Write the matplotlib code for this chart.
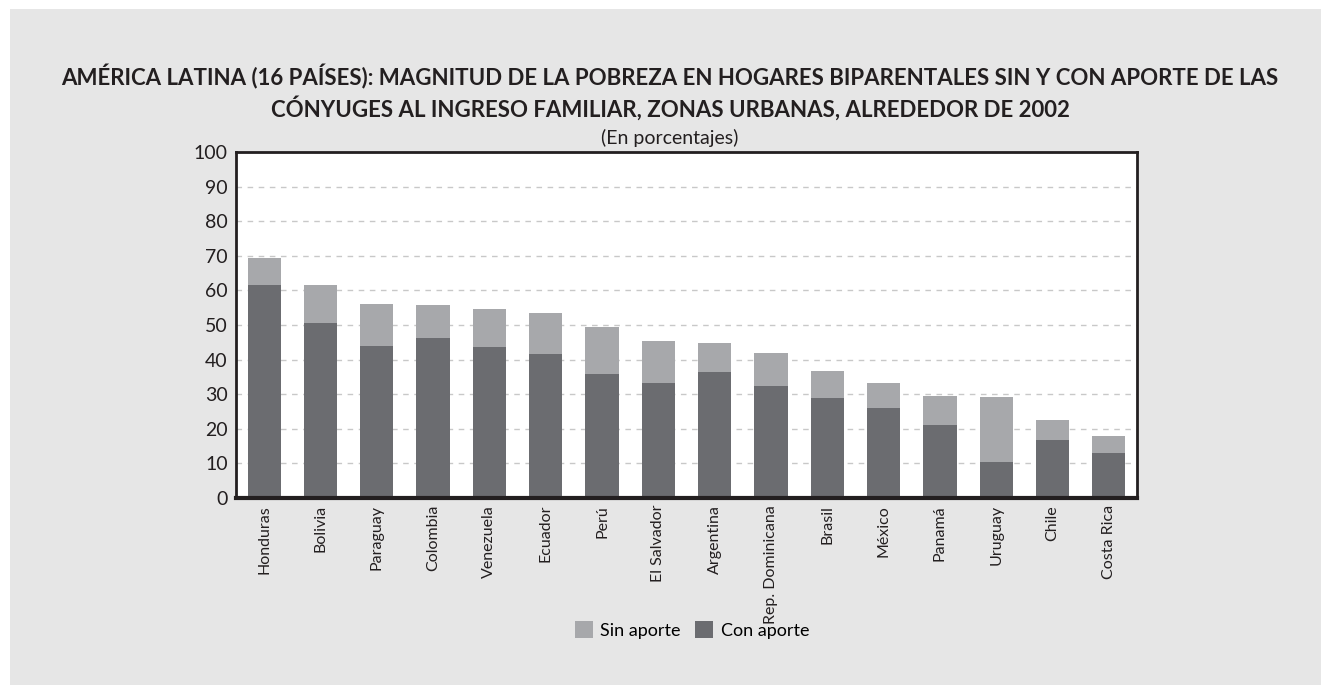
import matplotlib.pyplot as plt
from matplotlib.patches import Rectangle
import numpy as np

paises = ['Honduras', 'Bolivia', 'Paraguay', 'Colombia', 'Venezuela', 'Ecuador',
          'Perú', 'El Salvador', 'Argentina', 'Rep. Dominicana', 'Brasil', 'México',
          'Panamá', 'Uruguay', 'Chile', 'Costa Rica']
sin_aporte = [69.5, 61.7, 56.2, 55.9, 54.5, 53.6, 49.3, 45.3, 44.7, 41.8,
              36.6, 33.2, 29.5, 29.2, 22.5, 18.0]
con_aporte = [61.7, 50.7, 43.8, 46.1, 43.5, 41.5, 35.8, 33.2, 36.3, 32.4,
              28.9, 26.0, 21.1, 10.4, 16.8, 13.0]
yticks = list(range(0, 101, 10))

plt.rcParams['font.family'] = ['Lato', 'DejaVu Sans']

fig = plt.figure(figsize=(13.21, 6.85), dpi=100, facecolor='white')
# grey panel behind everything
fig.add_artist(Rectangle((10 / 1321, 0), 1311 / 1321, 676 / 685,
                         transform=fig.transFigure, facecolor='#e6e6e6',
                         edgecolor='none', zorder=-10))

ax = fig.add_axes([236 / 1321, 1 - 498 / 685, 901 / 1321, 346 / 685])
ax.set_zorder(2)
ax.set_facecolor('white')

x = np.arange(len(paises))
ax.bar(x, sin_aporte, width=0.59, color='#a7a8ab', label='Sin aporte', zorder=2)
ax.bar(x, con_aporte, width=0.59, color='#6b6c70', label='Con aporte', zorder=3)

ax.set_xlim(-0.5, len(paises) - 0.5)
ax.set_ylim(0, 100)
ax.set_yticks(yticks)
ax.tick_params(axis='y', labelsize=14, length=0, pad=6, colors='#231f20')
ax.set_xticks(x)
ax.set_xticklabels(paises, rotation=90, fontsize=11.5, color='#231f20')
ax.tick_params(axis='x', length=0, pad=5)
ax.yaxis.grid(True, linestyle=(0, (4, 4)), color='#c8c8c8', linewidth=1, zorder=1)
ax.set_axisbelow(True)

for s in ['left', 'top', 'right']:
    ax.spines[s].set_color('#231f20')
    ax.spines[s].set_linewidth(2)
ax.spines['bottom'].set_color('#231f20')
ax.spines['bottom'].set_linewidth(3)
ax.spines['bottom'].set_zorder(5)

cx = 670 / 1321
fig.text(cx, 1 - 77 / 685,
         'AMÉRICA LATINA (16 PAÍSES): MAGNITUD DE LA POBREZA EN HOGARES BIPARENTALES SIN Y CON APORTE DE LAS',
         ha='center', va='center', fontsize=16, fontweight='bold', color='#231f20')
fig.text(cx, 1 - 108 / 685,
         'CÓNYUGES AL INGRESO FAMILIAR, ZONAS URBANAS, ALREDEDOR DE 2002',
         ha='center', va='center', fontsize=16, fontweight='bold', color='#231f20')
fig.text(cx, 1 - 138 / 685, '(En porcentajes)', ha='center', va='center',
         fontsize=14, color='#231f20')

fig.legend(loc='center', bbox_to_anchor=(0.524, 1 - 630 / 685), ncol=2,
           frameon=False, fontsize=13, handlelength=1.0, handleheight=1.0,
           handletextpad=0.4, columnspacing=0.8)

fig.savefig('out.png', dpi=100, facecolor=fig.get_facecolor())
